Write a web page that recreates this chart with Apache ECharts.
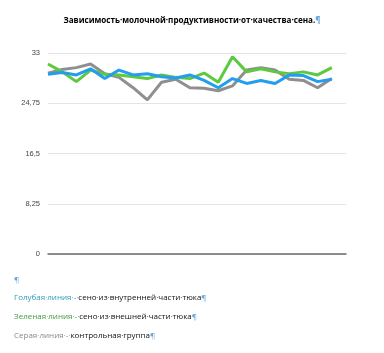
<!DOCTYPE html>
<html>
<head>
<meta charset="utf-8">
<script src="https://cdn.jsdelivr.net/npm/echarts@6/dist/echarts.min.js"></script>
<style>
  html, body { margin: 0; padding: 0; background: #fff; }
  #main { width: 384px; height: 353px; }
</style>
</head>
<body>
<div id="main"></div>
<script type="text/javascript">
	// точки по оси X (подписи не показываются), последняя точка пустая
	var points = ['1','2','3','4','5','6','7','8','9','10','11','12','13','14','15','16','17','18','19','20','21','22'];
	// голубая линия - сено из внутренней части тюка
	var blueLine = [29.5, 29.8, 29.4, 30.4, 28.8, 30.2, 29.4, 29.6, 29.1, 28.9, 29.4, 28.5, 27.3, 28.8, 28.0, 28.5, 28.0, 29.4, 29.3, 28.3, 28.7];
	// зеленая линия - сено из внешней части тюка
	var greenLine = [31.2, 29.9, 28.3, 30.2, 29.5, 29.4, 29.1, 28.8, 29.4, 29.0, 28.8, 29.7, 28.2, 32.4, 29.9, 30.4, 29.9, 29.6, 29.9, 29.4, 30.6];
	// серая линия - контрольная группа
	var grayLine = [29.7, 30.3, 30.6, 31.2, 29.6, 29.0, 27.3, 25.3, 28.2, 28.7, 27.3, 27.2, 26.8, 27.6, 30.2, 30.6, 30.2, 28.7, 28.5, 27.3, 28.8];
	var yTicks = [0, 8.25, 16.5, 24.75, 33];

	var myChart = echarts.init(document.getElementById('main'));

	function noteLine(y, color, head, tail) {
		return {
			type: 'text',
			left: 14,
			top: y,
			style: {
				text: '{h|' + head + '}{t|' + tail + '}{p|¶}',
				rich: {
					h: { fill: color, fontSize: 8, fontFamily: 'Open Sans' },
					t: { fill: '#111', fontSize: 8, fontFamily: 'Open Sans' },
					p: { fill: '#6aa6d8', fontSize: 8, fontFamily: 'Open Sans' }
				}
			}
		};
	}

	myChart.setOption({
		animation: false,
		title: {
			text: '{a|Зависимость·молочной·продуктивности·от·качества·сена.}{p|¶}',
			left: 'center',
			top: 12,
			textStyle: {
				rich: {
					a: { fontSize: 8.1, fontWeight: 'bold', color: '#000', fontFamily: 'Open Sans' },
					p: { fontSize: 8.1, color: '#6aa6d8', fontFamily: 'Open Sans' }
				}
			}
		},
		grid: { left: 48, right: 38, top: 53, bottom: 99 },
		xAxis: {
			type: 'category',
			data: points,
			boundaryGap: false,
			axisLine: { lineStyle: { color: '#6b6b6b', width: 1.5 } },
			axisTick: { show: false },
			axisLabel: { show: false }
		},
		yAxis: {
			type: 'value',
			min: 0,
			max: 33,
			interval: 8.25,
			axisLine: { show: false },
			axisTick: { show: false },
			splitLine: { lineStyle: { color: '#e4e4e4', width: 1 } },
			axisLabel: {
				color: '#444',
				fontSize: 7.5,
				fontFamily: 'Liberation Sans',
				margin: 8,
				formatter: function (v) {
					return yTicks.indexOf(v) >= 0 ? String(v).replace('.', ',') : '';
				}
			}
		},
		series: [
			{ name: 'Серая', type: 'line', data: grayLine, symbol: 'none', lineStyle: { color: '#8f8f8f', width: 3 } },
			{ name: 'Зеленая', type: 'line', data: greenLine, symbol: 'none', lineStyle: { color: '#5cc93e', width: 3 } },
			{ name: 'Голубая', type: 'line', data: blueLine, symbol: 'none', lineStyle: { color: '#239ded', width: 3 } }
		],
		graphic: [
			{ type: 'text', left: 14, top: 276, style: { text: '¶', fill: '#6aa6d8', fontSize: 8, fontFamily: 'Open Sans' } },
			noteLine(294, '#2c9bb5', 'Голубая·линия·-·', 'сено·из·внутренней·части·тюка'),
			noteLine(313, '#3f9b3c', 'Зеленая·линия·-·', 'сено·из·внешней·части·тюка'),
			noteLine(332, '#8a8a8a', 'Серая·линия·-·', 'контрольная·группа')
		]
	});
</script>
</body>
</html>
